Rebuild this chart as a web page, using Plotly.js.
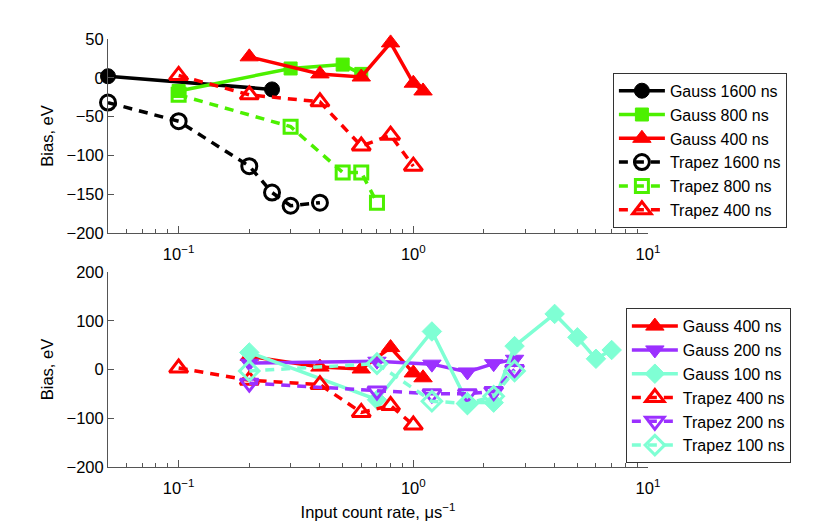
<!DOCTYPE html>
<html>
<head>
<meta charset="utf-8">
<script src="https://cdn.plot.ly/plotly-3.0.1.min.js"></script>
<style>
  html, body { margin: 0; padding: 0; background: #fff; }
  #chart { width: 830px; height: 526px; }
</style>
</head>
<body>
<div id="chart"></div>
<script>
// Top panel
const xG1600 = [0.05, 0.25];
const yG1600 = [2, -15];
const xG800 = [0.1, 0.3, 0.5, 0.6];
const yG800 = [-17, 12, 17, 5];
const xG400 = [0.2, 0.4, 0.6, 0.8, 1.0, 1.1];
const yG400 = [27, 5, 1, 45, -7, -17];
const xT1600 = [0.05, 0.1, 0.2, 0.25, 0.3, 0.4];
const yT1600 = [-32, -56, -114, -148, -165, -161];
const xT800 = [0.1, 0.3, 0.5, 0.6, 0.7];
const yT800 = [-22, -63, -122, -122, -161];
const xT400 = [0.1, 0.2, 0.4, 0.6, 0.8, 1.0];
const yT400 = [3, -22, -31, -88, -74, -114];

// Bottom panel
const xG200 = [0.2, 0.7, 1.2, 1.7, 2.2, 2.7];
const yG200 = [13, 17, 11, -5, 12, 21];
const xG100 = [0.2, 0.7, 1.2, 1.7, 2.2, 2.7, 4, 5, 6, 7];
const yG100 = [35, -62, 78, -67, -68, 48, 114, 66, 22, 40];
const xT200 = [0.2, 0.7, 1.2, 1.7, 2.2, 2.7];
const yT200 = [-28, -44, -50, -50, -45, 0];
const xT100 = [0.2, 0.7, 1.2, 1.7, 2.2, 2.7];
const yT100 = [-3, 12, -65, -70, -55, -3];

// Axis ticks
const majorTicks = [0.1, 1, 10];
const majorText = ['10<sup>\u22121</sup>', '10<sup>0</sup>', '10<sup>1</sup>'];
const minorTicks = [0.06, 0.07, 0.08, 0.09, 0.2, 0.3, 0.4, 0.5, 0.6, 0.7, 0.8, 0.9,
                    2, 3, 4, 5, 6, 7, 8, 9];

const BLACK = '#000000';
const GREEN = '#4cf000';
const RED = '#ff0000';
const PURPLE = '#9b30ff';
const CYAN = '#7fffd4';
const DASH = '9px,7px';
const FS = 16.5;

function markerSize(symbol) {
  if (symbol.indexOf('square') >= 0) return 13;
  if (symbol.indexOf('triangle') >= 0) return 16;
  return 15;
}

function series(x, y, name, color, symbol, dashed, xa, ya, legend) {
  const open = symbol.indexOf('open') >= 0;
  return {
    x: x, y: y, name: name, type: 'scatter', mode: 'lines+markers',
    xaxis: xa, yaxis: ya, legend: legend, cliponaxis: false,
    line: { color: color, width: 3.5, dash: dashed ? DASH : 'solid' },
    marker: {
      symbol: symbol, size: markerSize(symbol),
      color: color, line: { color: color, width: open ? 3 : 1 }
    }
  };
}

const traces = [
  series(xG1600, yG1600, 'Gauss 1600 ns', BLACK, 'circle', false, 'x2', 'y2', 'legend'),
  series(xG800, yG800, 'Gauss 800 ns', GREEN, 'square', false, 'x2', 'y2', 'legend'),
  series(xG400, yG400, 'Gauss 400 ns', RED, 'triangle-up', false, 'x2', 'y2', 'legend'),
  series(xT1600, yT1600, 'Trapez 1600 ns', BLACK, 'circle-open', true, 'x2', 'y2', 'legend'),
  series(xT800, yT800, 'Trapez 800 ns', GREEN, 'square-open', true, 'x2', 'y2', 'legend'),
  series(xT400, yT400, 'Trapez 400 ns', RED, 'triangle-up-open', true, 'x2', 'y2', 'legend'),

  series(xG400, yG400, 'Gauss 400 ns', RED, 'triangle-up', false, 'x', 'y', 'legend2'),
  series(xG200, yG200, 'Gauss 200 ns', PURPLE, 'triangle-down', false, 'x', 'y', 'legend2'),
  series(xG100, yG100, 'Gauss 100 ns', CYAN, 'diamond', false, 'x', 'y', 'legend2'),
  series(xT400, yT400, 'Trapez 400 ns', RED, 'triangle-up-open', true, 'x', 'y', 'legend2'),
  series(xT200, yT200, 'Trapez 200 ns', PURPLE, 'triangle-down-open', true, 'x', 'y', 'legend2'),
  series(xT100, yT100, 'Trapez 100 ns', CYAN, 'diamond-open', true, 'x', 'y', 'legend2')
];

function xAxis(anchor, title) {
  const ax = {
    type: 'log', range: [Math.log10(0.05), 1], anchor: anchor,
    tickmode: 'array', tickvals: majorTicks, ticktext: majorText,
    ticks: 'inside', ticklen: 7, tickcolor: '#555', tickwidth: 1,
    ticklabelstandoff: 6,
    minor: { tickmode: 'array', tickvals: minorTicks, ticks: 'inside', ticklen: 4, tickcolor: '#555' },
    showline: true, linecolor: '#555', linewidth: 1,
    showgrid: false, zeroline: false,
    tickfont: { size: FS, color: '#000' }
  };
  if (title) ax.title = { text: title, font: { size: FS, color: '#000' }, standoff: 10 };
  return ax;
}

function yAxis(domain, range, dtick) {
  return {
    domain: domain, range: range, dtick: dtick, tick0: 0,
    ticks: 'inside', ticklen: 6, tickcolor: '#555',
    showline: true, linecolor: '#555', linewidth: 1,
    showgrid: false, zeroline: false,
    tickfont: { size: FS, color: '#000' },
    title: { text: 'Bias, eV', font: { size: FS, color: '#000' }, standoff: 8 }
  };
}

const legendStyle = {
  bgcolor: '#ffffff', bordercolor: '#333', borderwidth: 1,
  font: { size: 16, color: '#000' }, xanchor: 'left', yanchor: 'top',
  tracegroupgap: 0, itemwidth: 46
};

const layout = {
  width: 830, height: 526,
  margin: { l: 108, r: 182, t: 39, b: 59 },
  paper_bgcolor: '#fff', plot_bgcolor: '#fff',
  font: { family: 'Liberation Sans, Arial, Helvetica, sans-serif', color: '#000' },
  xaxis: xAxis('y', 'Input count rate, \u03bcs<sup>\u22121</sup>'),
  xaxis2: xAxis('y2', null),
  yaxis: yAxis([0, 0.4556], [-200, 200], 100),
  yaxis2: yAxis([0.547, 1], [-200, 50], 50),
  legend: Object.assign({ x: 0.935, y: 0.921 }, legendStyle),
  legend2: Object.assign({ x: 0.959, y: 0.371 }, legendStyle),
  showlegend: true
};

Plotly.newPlot('chart', traces, layout, { displayModeBar: false });
</script>
</body>
</html>
